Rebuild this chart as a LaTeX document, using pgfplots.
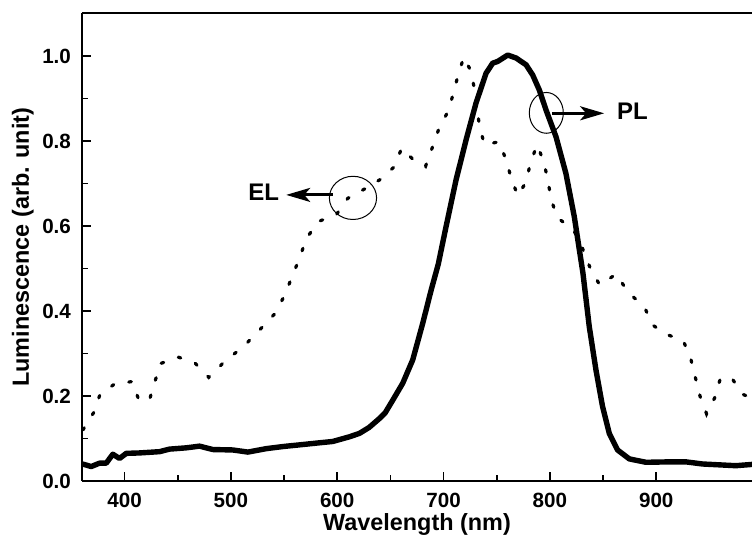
\documentclass[border=0pt]{standalone}
\usepackage{fontspec}
\setmainfont{Liberation Sans}
\usepackage{pgfplots}
\pgfplotsset{compat=1.18}
\usetikzlibrary{arrows.meta}

\pgfplotstableread{
x y
360.5 0.040
368.7 0.034
376.5 0.042
382.8 0.042
389 0.063
395.3 0.053
401.6 0.065
414 0.066
432.9 0.069
442.3 0.075
458 0.078
470.5 0.082
483 0.074
501.8 0.073
516 0.068
533 0.076
548.8 0.081
564.5 0.085
580 0.089
595.8 0.093
611.5 0.104
620.9 0.112
630 0.126
639.7 0.147
645 0.160
652.2 0.19
661.6 0.23
671 0.285
680.4 0.371
688.3 0.449
695 0.51
702.3 0.598
711.7 0.708
721.1 0.802
730.5 0.889
739.9 0.959
746.2 0.983
750.9 0.987
760.3 1.002
768.2 0.995
777.6 0.979
783.8 0.955
790 0.92
796.3 0.873
805.7 0.81
815 0.724
822.9 0.622
827.6 0.545
831 0.49
837 0.363
843.3 0.261
849.5 0.175
855.8 0.112
863.6 0.073
874.6 0.052
890.3 0.044
912.2 0.045
927.9 0.045
943.5 0.040
974.8 0.036
990 0.039
}\pltable

\pgfplotstableread{
x y
360.8 0.12
371 0.161
377 0.204
390.6 0.228
407.2 0.234
413.4 0.191
423.5 0.191
428.5 0.234
434.5 0.277
451 0.291
466.4 0.277
479.2 0.244
494.6 0.282
511.2 0.315
526.9 0.355
541.9 0.395
550.7 0.438
557.6 0.481
564.5 0.524
570.8 0.569
581.7 0.61
599 0.626
609.9 0.665
627.2 0.689
642.2 0.712
653.8 0.74
660.6 0.783
671 0.757
683 0.74
689.2 0.783
695.2 0.826
704 0.869
709.3 0.912
713.4 0.953
719 0.997
726 0.963
729.1 0.92
733.8 0.834
738.5 0.791
752 0.798
758.9 0.755
763.6 0.712
769.8 0.671
777.7 0.704
781.7 0.749
788 0.791
794.3 0.75
798 0.708
801.1 0.663
806.8 0.62
822.4 0.59
830.5 0.548
837.4 0.504
846.8 0.461
862.5 0.487
873.4 0.444
888.7 0.41
896.5 0.367
909.7 0.345
925.4 0.33
932.6 0.286
936.7 0.244
941.1 0.2
947.3 0.158
954.8 0.195
959.9 0.238
970.2 0.245
981.2 0.204
990 0.195
}\eltable

\begin{document}
\begin{tikzpicture}
\path[use as bounding box] (-41pt,-27.5pt) rectangle (335pt,240.5pt);
\begin{axis}[
  at={(0,0)}, anchor=south west,
  scale only axis, width=335pt, height=233.8pt,
  xmin=360, xmax=990, ymin=0, ymax=1.1,
  axis y line*=left,
  axis line style={line width=0.9pt},
  tick align=inside,
  xtick pos=left, ytick pos=left,
  xtick={400,500,600,700,800,900},
  ytick={0,0.2,0.4,0.6,0.8,1.0},
  minor x tick num=1, minor y tick num=1,
  major tick length=4.7pt, minor tick length=3pt,
  every tick/.style={line width=0.9pt, black},
  /pgf/number format/assume math mode=true,
  ticklabel style={font=\fontsize{10.3}{12}\selectfont\bfseries},
  yticklabel style={/pgf/number format/fixed, /pgf/number format/fixed zerofill, /pgf/number format/precision=1, xshift=-2pt},
  xticklabel style={yshift=-2.5pt},
  scaled ticks=false,
  xlabel={Wavelength (nm)},
  ylabel={Luminescence (arb. unit)},
  every axis x label/.style={at={(axis description cs:0.5,-0.1059)}, anchor=base, font=\fontsize{11.7}{13}\selectfont\bfseries},
  every axis y label/.style={at={(axis description cs:-0.0791,0.5)}, rotate=90, anchor=base, font=\fontsize{11.7}{13}\selectfont\bfseries},
  clip=true,
]
\addplot[black, line width=2.7pt, line join=round] table[x=x,y=y] {\pltable};
\addplot[black, line width=1.6pt, line cap=round, dash pattern=on 1.3pt off 7.7pt] table[x=x,y=y] {\eltable};

\draw[line width=0.5pt] (axis cs:614.8,0.666) ellipse [x radius=11.8pt, y radius=10.8pt];
\draw[line width=1.5pt, -{Stealth[length=12pt,width=7pt,inset=3pt]}] (axis cs:595.8,0.673) -- (axis cs:552,0.673);
\node[anchor=base east, inner sep=0pt, font=\fontsize{12}{14}\selectfont\bfseries] at (axis cs:545.7,0.661) {EL};

\draw[line width=0.5pt] (axis cs:796.6,0.866) ellipse [x radius=8.5pt, y radius=10.2pt];
\draw[line width=1.5pt, -{Stealth[length=12pt,width=7pt,inset=3pt]}] (axis cs:802.4,0.865) -- (axis cs:851,0.865);
\node[anchor=base west, inner sep=0pt, font=\fontsize{12}{14}\selectfont\bfseries] at (axis cs:862.7,0.851) {PL};
\end{axis}
\end{tikzpicture}
\end{document}
